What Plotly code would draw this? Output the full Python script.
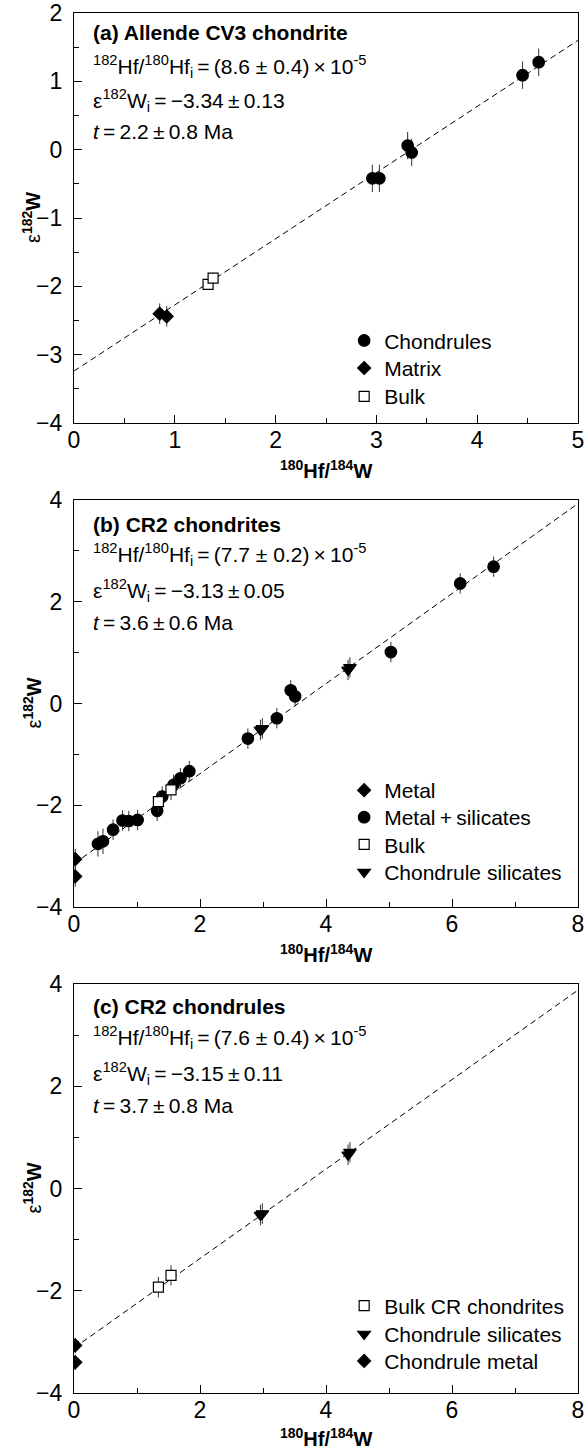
import plotly.graph_objects as go

# ---------------- data ----------------
# Panel (a) Allende CV3 chondrite
a_chondrules_x = [2.96, 3.03, 3.31, 3.35, 4.45, 4.61]
a_chondrules_y = [-0.42, -0.42, 0.06, -0.04, 1.09, 1.28]
a_chondrules_err = [0.2, 0.2, 0.2, 0.2, 0.2, 0.2]
a_matrix_x = [0.85, 0.92]
a_matrix_y = [-2.40, -2.44]
a_matrix_err = [0.15, 0.15]
a_bulk_x = [1.33, 1.38]
a_bulk_y = [-1.97, -1.88]
a_bulk_err = [0.08, 0.08]
a_line_x = [0, 5]
a_line_y = [-3.24, 1.60]

# Panel (b) CR2 chondrites
b_metal_x = [0.02, 0.02]
b_metal_y = [-3.06, -3.40]
b_metal_err = [0.2, 0.2]
b_ms_x = [0.38, 0.46, 0.62, 0.77, 0.87, 1.01, 1.32, 1.40, 1.58, 1.69, 1.83,
          2.76, 3.22, 3.44, 3.51, 5.03, 6.13, 6.66]
b_ms_y = [-2.76, -2.71, -2.48, -2.30, -2.31, -2.29, -2.11, -1.83, -1.60, -1.47, -1.33,
          -0.69, -0.29, 0.26, 0.14, 1.01, 2.36, 2.69]
b_ms_err = [0.25, 0.25, 0.2, 0.2, 0.2, 0.2, 0.2, 0.2, 0.2, 0.2, 0.2,
            0.2, 0.2, 0.2, 0.2, 0.2, 0.2, 0.2]
b_bulk_x = [1.34, 1.54]
b_bulk_y = [-1.93, -1.70]
b_bulk_err = [0.2, 0.2]
b_cs_x = [2.96, 2.99, 4.35, 4.38]
b_cs_y = [-0.52, -0.49, 0.66, 0.71]
b_cs_err = [0.2, 0.2, 0.2, 0.2]
b_line_x = [0, 8]
b_line_y = [-3.15, 3.93]

# Panel (c) CR2 chondrules
c_bulk_x = [1.34, 1.54]
c_bulk_y = [-1.93, -1.70]
c_bulk_err = [0.2, 0.2]
c_cs_x = [2.96, 2.99, 4.35, 4.38]
c_cs_y = [-0.52, -0.49, 0.66, 0.71]
c_cs_err = [0.2, 0.2, 0.2, 0.2]
c_metal_x = [0.02, 0.02]
c_metal_y = [-3.07, -3.40]
c_metal_err = [0.15, 0.15]
c_line_x = [0, 8]
c_line_y = [-3.12, 3.88]

FONT = "Liberation Sans, Arial, Helvetica, sans-serif"
FS = 21
TFS = 23

fig = go.Figure()
legend_slots = {}


def add_line(xs, ys, xa, ya):
    fig.add_trace(go.Scatter(x=xs, y=ys, mode="lines", xaxis=xa, yaxis=ya,
                             line=dict(color="black", width=1, dash="6px,4px"),
                             showlegend=False, hoverinfo="skip"))


def add_pts(xs, ys, err, name, symbol, size, fill, xa, ya, legend, ypos):
    legend_slots[legend] = ypos
    fig.add_trace(go.Scatter(
        x=xs, y=ys, mode="markers", name=name, xaxis=xa, yaxis=ya, legend=legend,
        marker=dict(symbol=symbol, size=size, color=fill,
                    line=dict(color="black", width=1.2)),
        error_y=dict(type="data", array=err, visible=True, color="#333333",
                     thickness=1, width=0),
    ))


# panel a
add_line(a_line_x, a_line_y, "x", "y")
add_pts(a_chondrules_x, a_chondrules_y, a_chondrules_err, "Chondrules", "circle", 11.5, "black", "x", "y", "legend", 0.7625)
add_pts(a_matrix_x, a_matrix_y, a_matrix_err, "Matrix", "diamond", 10, "black", "x", "y", "legend2", 0.7425)
add_pts(a_bulk_x, a_bulk_y, a_bulk_err, "Bulk", "square", 10, "white", "x", "y", "legend3", 0.7220)

# panel b
add_line(b_line_x, b_line_y, "x2", "y2")
add_pts(b_metal_x, b_metal_y, b_metal_err, "Metal", "diamond", 10, "black", "x2", "y2", "legend4", 0.4366)
add_pts(b_ms_x, b_ms_y, b_ms_err, "Metal\u2009+\u2009silicates", "circle", 11.5, "black", "x2", "y2", "legend5", 0.4170)
add_pts(b_bulk_x, b_bulk_y, b_bulk_err, "Bulk", "square", 10, "white", "x2", "y2", "legend6", 0.3973)
add_pts(b_cs_x, b_cs_y, b_cs_err, "Chondrule silicates", "triangle-down", 11, "black", "x2", "y2", "legend7", 0.3772)

# panel c
add_line(c_line_x, c_line_y, "x3", "y3")
add_pts(c_bulk_x, c_bulk_y, c_bulk_err, "Bulk CR chondrites", "square", 10, "white", "x3", "y3", "legend8", 0.0630)
add_pts(c_cs_x, c_cs_y, c_cs_err, "Chondrule silicates", "triangle-down", 11, "black", "x3", "y3", "legend9", 0.0425)
add_pts(c_metal_x, c_metal_y, c_metal_err, "Chondrule metal", "diamond", 10, "black", "x3", "y3", "legend10", 0.0230)


def xaxis(rng, dtick, mdtick, anchor):
    return dict(range=rng, dtick=dtick, tick0=0, anchor=anchor, automargin=False,
                showline=True, linecolor="black", linewidth=1.3, mirror=True,
                ticks="inside", ticklen=8, tickwidth=1, tickcolor="black",
                minor=dict(ticks="inside", ticklen=5, dtick=mdtick, tick0=0,
                           tickcolor="black", tickwidth=1),
                showgrid=False, zeroline=False, ticklabelstandoff=-4,
                tickfont=dict(family=FONT, size=TFS, color="black"))


def yaxis(rng, dtick, mdtick, domain, anchor):
    d = xaxis(rng, dtick, mdtick, anchor)
    d["domain"] = domain
    d["ticklabelstandoff"] = 6
    return d


dom_a = [0.7029, 1.0]
dom_b = [0.3522, 0.6471]
dom_c = [0.0, 0.2964]

fig.update_layout(
    template="none",
    width=585, height=1450,
    margin=dict(l=74, r=7, t=13, b=57, pad=0),
    paper_bgcolor="white", plot_bgcolor="white",
    font=dict(family=FONT, size=FS, color="black"),
    xaxis=xaxis([0, 5], 1, 0.5, "y"),
    yaxis=yaxis([-4, 2], 1, 0.5, dom_a, "x"),
    xaxis2=xaxis([0, 8], 2, 1, "y2"),
    yaxis2=yaxis([-4, 4], 2, 1, dom_b, "x2"),
    xaxis3=xaxis([0, 8], 2, 1, "y3"),
    yaxis3=yaxis([-4, 4], 2, 1, dom_c, "x3"),
)

for key, ypos in legend_slots.items():
    fig.update_layout({key: dict(font=dict(family=FONT, size=FS, color="black"),
                                 bgcolor="rgba(0,0,0,0)", borderwidth=0, itemwidth=30,
                                 x=0.536, y=ypos, xanchor="left", yanchor="middle")})

# panel texts
panels = [
    ("x", "y", "(a) Allende CV3 chondrite", "8.6 ± 0.4", "−3.34\u2009±\u20090.13", "2.2\u2009±\u20090.8", [19, 53, 87, 118], -47),
    ("x2", "y2", "(b) CR2 chondrites", "7.7 ± 0.2", "−3.13\u2009±\u20090.05", "3.6\u2009±\u20090.6", [24, 54, 90, 122], -47),
    ("x3", "y3", "(c) CR2 chondrules", "7.6 ± 0.4", "−3.15\u2009±\u20090.11", "3.7\u2009±\u20090.8", [23, 54, 90, 122], -44),
]
for xa, ya, title, ratio, eps, t, offs, xt_shift in panels:
    lines = [
        "<b>%s</b>" % title,
        "<sup>182</sup>Hf/<sup>180</sup>Hf<sub>i</sub>\u2009=\u2009(%s)\u2009×\u200910<sup>-5</sup>" % ratio,
        "ε<sup>182</sup>W<sub>i</sub>\u2009=\u2009%s" % eps,
        "<i>t</i>\u2009=\u2009%s Ma" % t,
    ]
    for txt, off in zip(lines, offs):
        fig.add_annotation(text=txt, xref=xa + " domain", yref=ya + " domain",
                           x=0, y=1, xanchor="left", yanchor="middle",
                           xshift=17, yshift=-off, showarrow=False,
                           font=dict(family=FONT, size=FS, color="black"))
    # axis titles
    fig.add_annotation(text="<b><sup>180</sup>Hf/<sup>184</sup>W</b>",
                       xref=xa + " domain", yref=ya + " domain", x=0.5, y=0,
                       xanchor="center", yanchor="middle", yshift=xt_shift,
                       showarrow=False, font=dict(family=FONT, size=FS - 1, color="black"))
    fig.add_annotation(text="ε<b><sup>182</sup>W</b>", textangle=-90,
                       xref=xa + " domain", yref=ya + " domain", x=0, y=0.5,
                       xanchor="center", yanchor="middle", xshift=-42,
                       showarrow=False, font=dict(family=FONT, size=FS - 1, color="black"))

# remove the browser's default 8 px page margin so the figure fills the window
fig.write_html("out.html", config={"displayModeBar": False},
               post_script="document.body.style.margin='0px';")
